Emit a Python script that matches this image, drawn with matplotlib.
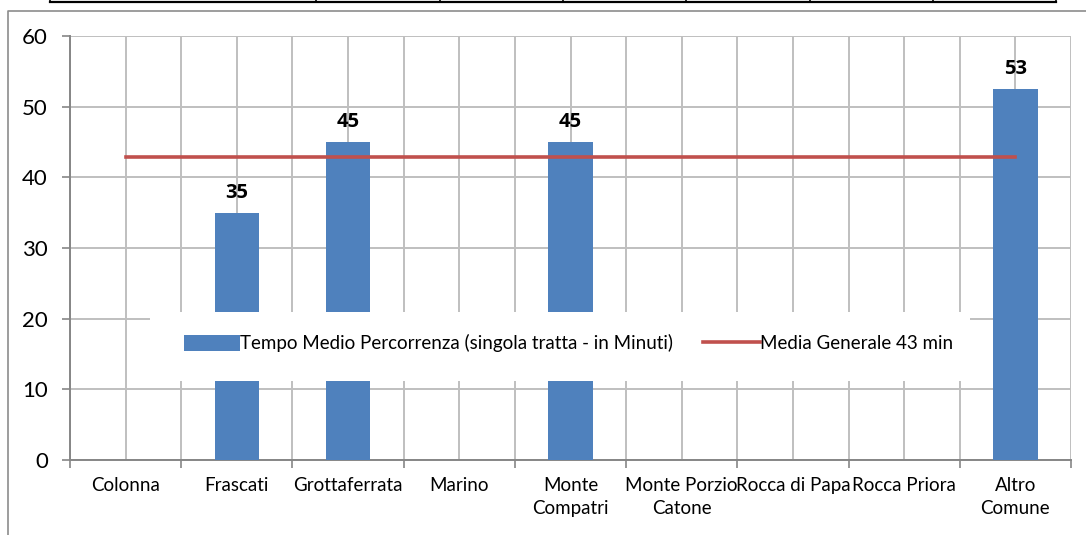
import matplotlib.pyplot as plt
from matplotlib.patches import Rectangle
from matplotlib.lines import Line2D

# dati del grafico
comuni = ['Colonna', 'Frascati', 'Grottaferrata', 'Marino', 'Monte\nCompatri',
          'Monte Porzio\nCatone', 'Rocca di Papa', 'Rocca Priora', 'Altro\nComune']
tempo_medio = [0, 35, 45, 0, 45, 0, 0, 0, 52.5]
etichette = ['', '35', '45', '', '45', '', '', '', '53']
media_generale = [42.86] * 9
y_ticks = [0, 10, 20, 30, 40, 50, 60]

plt.rcParams['font.family'] = ['Lato', 'DejaVu Sans']

W, H = 1086, 535
fig = plt.figure(figsize=(W / 100, H / 100), dpi=100)
ax = fig.add_axes([70 / W, (H - 460) / H, 1001 / W, 424 / H])

x = list(range(len(comuni)))
bars = ax.bar(x, tempo_medio, width=0.40, color='#4F81BD', zorder=3,
              label='Tempo Medio Percorrenza (singola tratta - in Minuti)')
linea, = ax.plot(x, media_generale, color='#C0504D', lw=2.6, zorder=3,
                 label='Media Generale 43 min')

for xi, v, t in zip(x, tempo_medio, etichette):
    if t:
        ax.annotate(t, (xi, v), xytext=(0, 7), textcoords='offset points',
                    ha='center', va='bottom', fontsize=14.5, fontweight='bold',
                    family=['Open Sans', 'DejaVu Sans'])

ax.set_xlim(-0.5, len(comuni) - 0.5)
ax.set_ylim(0, 60)
ax.set_yticks(y_ticks)
ax.set_xticks(x)
ax.set_xticklabels(comuni, fontsize=13.5, linespacing=1.45)
ax.set_xticks([i - 0.5 for i in range(len(comuni) + 1)], minor=True)

ax.tick_params(axis='x', which='major', length=0, pad=12)
ax.tick_params(axis='x', which='minor', length=6, color='#868686', width=1.2)
ax.tick_params(axis='y', length=6, color='#868686', width=1.2, pad=10, labelsize=16)

ax.grid(True, axis='y', color='#BFBFBF', lw=1.4, zorder=0)
ax.grid(True, axis='x', which='both', color='#BFBFBF', lw=1.4, zorder=0)
ax.set_axisbelow(True)

for s in ['top', 'right']:
    ax.spines[s].set_visible(False)
for s in ['left', 'bottom']:
    ax.spines[s].set_color('#868686')
    ax.spines[s].set_linewidth(1.4)

# riquadro bianco della legenda
ax.add_patch(Rectangle((0.080, 0.187), 0.819, 0.162, transform=ax.transAxes,
                       facecolor='white', edgecolor='none', zorder=4))
leg = ax.legend([bars, linea], [bars.get_label(), linea.get_label()],
                loc='center', bbox_to_anchor=(0.498, 0.275), ncol=2, frameon=False,
                fontsize=13.5, handlelength=3.0, handleheight=1.0, handletextpad=0.0,
                columnspacing=1.6)
leg.set_zorder(5)

# cornice esterna e tabella in alto
fig.add_artist(Line2D([7.5 / W, 7.5 / W, 1.0], [0, 1 - 11 / H, 1 - 11 / H],
                      transform=fig.transFigure, color='#8C8C8C', lw=1.2))
fig.add_artist(Line2D([50 / W, 1056 / W], [1 - 2 / H, 1 - 2 / H],
                      transform=fig.transFigure, color='black', lw=1.6))
for xv in [50, 316, 440, 563, 686, 810, 933, 1056]:
    fig.add_artist(Line2D([xv / W, xv / W], [1 - 2 / H, 1.0],
                          transform=fig.transFigure, color='black', lw=1.2))

fig.savefig('out.png', dpi=100)
